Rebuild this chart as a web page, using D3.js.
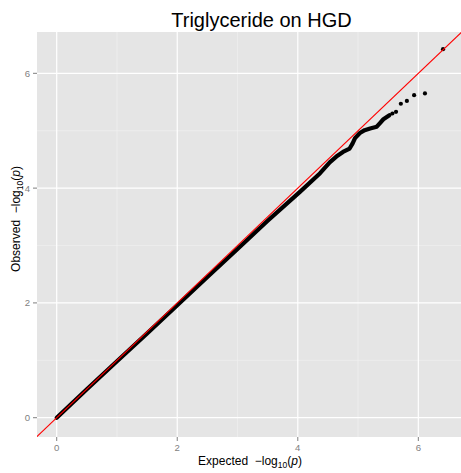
<!DOCTYPE html>
<html lang="en">
  <head>
    <meta charset="utf-8">
    <title>Triglyceride on HGD</title>
    <script src="https://d3js.org/d3.v7.min.js"></script>
    <style>
      body { margin: 0; background: #fff; }
      text { font-family: "Liberation Sans", Arial, sans-serif; }
    </style>
  </head>
  <body>
    <div id="container"></div>
    <script>
      width = 461;
      height = 473;
      panel = ({left: 37, right: 461, top: 32, bottom: 437});

      // dense part of the QQ curve (reads as a solid band)
      expected = [0, 0.5, 1, 1.5, 2, 2.5, 3, 3.5, 4.04, 4.37, 4.53, 4.64, 4.75, 4.86, 4.91, 4.95, 5.03, 5.11, 5.20, 5.31, 5.36, 5.42, 5.52];
      observed = [0, 0.495, 0.985, 1.47, 1.96, 2.45, 2.94, 3.43, 3.94, 4.26, 4.45, 4.55, 4.63, 4.69, 4.78, 4.87, 4.96, 5.01, 5.04, 5.07, 5.13, 5.20, 5.27];
      // separate points at the top
      tailExpected = [5.57, 5.63, 5.71, 5.81, 5.93, 6.11, 6.41];
      tailObserved = [5.30, 5.33, 5.47, 5.52, 5.62, 5.65, 6.42];

      ticks = [0, 2, 4, 6];
      minorTicks = [1, 3, 5];

      x = d3.scaleLinear().domain([-0.327, 6.708]).range([panel.left, panel.right]);
      y = d3.scaleLinear().domain([-0.336, 6.72]).range([panel.bottom, panel.top]);

      const svg = d3.select("#container").append("svg")
          .attr("width", width)
          .attr("height", height);

      svg.append("defs").append("clipPath").attr("id", "clip")
        .append("rect")
          .attr("x", panel.left).attr("y", panel.top)
          .attr("width", panel.right - panel.left)
          .attr("height", panel.bottom - panel.top);

      svg.append("rect")
          .attr("x", panel.left).attr("y", panel.top)
          .attr("width", panel.right - panel.left)
          .attr("height", panel.bottom - panel.top)
          .attr("fill", "#E5E5E5");

      // grid
      const grid = svg.append("g");
      grid.selectAll(".vmin").data(minorTicks).join("line")
          .attr("x1", d => x(d)).attr("x2", d => x(d))
          .attr("y1", panel.top).attr("y2", panel.bottom)
          .attr("stroke", "#F2F2F2").attr("stroke-width", 0.6);
      grid.selectAll(".hmin").data(minorTicks).join("line")
          .attr("y1", d => y(d)).attr("y2", d => y(d))
          .attr("x1", panel.left).attr("x2", panel.right)
          .attr("stroke", "#F2F2F2").attr("stroke-width", 0.6);
      grid.selectAll(".vmaj").data(ticks).join("line")
          .attr("x1", d => x(d)).attr("x2", d => x(d))
          .attr("y1", panel.top).attr("y2", panel.bottom)
          .attr("stroke", "#fff").attr("stroke-width", 1.2);
      grid.selectAll(".hmaj").data(ticks).join("line")
          .attr("y1", d => y(d)).attr("y2", d => y(d))
          .attr("x1", panel.left).attr("x2", panel.right)
          .attr("stroke", "#fff").attr("stroke-width", 1.2);

      const plot = svg.append("g").attr("clip-path", "url(#clip)");

      const pts = expected.map((e, i) => [e, observed[i]]);
      plot.append("path")
          .datum(pts)
          .attr("fill", "none")
          .attr("stroke", "#000")
          .attr("stroke-width", 4.2)
          .attr("stroke-linecap", "round")
          .attr("stroke-linejoin", "round")
          .attr("d", d3.line().x(d => x(d[0])).y(d => y(d[1])));

      plot.selectAll(".pt")
        .data(tailExpected.map((e, i) => [e, tailObserved[i]]))
        .join("circle")
          .attr("cx", d => x(d[0]))
          .attr("cy", d => y(d[1]))
          .attr("r", 2.1)
          .attr("fill", "#000");

      // y = x reference line
      plot.append("line")
          .attr("x1", x(-1)).attr("y1", y(-1))
          .attr("x2", x(8)).attr("y2", y(8))
          .attr("stroke", "#FF0000").attr("stroke-width", 1.1);

      // axes
      const tickCol = "#7F7F7F";
      svg.append("g").selectAll("line").data(ticks).join("line")
          .attr("x1", d => x(d)).attr("x2", d => x(d))
          .attr("y1", panel.bottom).attr("y2", panel.bottom + 4)
          .attr("stroke", tickCol);
      svg.append("g").selectAll("text").data(ticks).join("text")
          .attr("x", d => x(d)).attr("y", 450.5)
          .attr("text-anchor", "middle")
          .attr("font-size", 9.6).attr("fill", tickCol)
          .text(d => d);
      svg.append("g").selectAll("line").data(ticks).join("line")
          .attr("y1", d => y(d)).attr("y2", d => y(d))
          .attr("x1", panel.left - 4).attr("x2", panel.left)
          .attr("stroke", tickCol);
      svg.append("g").selectAll("text").data(ticks).join("text")
          .attr("x", 30).attr("y", d => y(d) + 3.4)
          .attr("text-anchor", "end")
          .attr("font-size", 9.6).attr("fill", tickCol)
          .text(d => d);

      function mathLabel(t, word) {
        t.append("tspan").text(word + "\u00a0\u00a0\u2212log");
        t.append("tspan").attr("font-size", 8.5).attr("dy", 2.5).text("10");
        t.append("tspan").attr("dy", -2.5).text("(");
        t.append("tspan").attr("font-style", "italic").text("p");
        t.append("tspan").text(")");
      }

      const xt = svg.append("text")
          .attr("x", 250).attr("y", 465)
          .attr("text-anchor", "middle")
          .attr("font-size", 12).attr("fill", "#000");
      mathLabel(xt, "Expected");

      const yt = svg.append("text")
          .attr("transform", "translate(20,219) rotate(-90)")
          .attr("text-anchor", "middle")
          .attr("font-size", 12).attr("fill", "#000");
      mathLabel(yt, "Observed");

      svg.append("text")
          .attr("x", 261.5).attr("y", 27.3)
          .attr("text-anchor", "middle")
          .attr("font-size", 20).attr("fill", "#000")
          .text("Triglyceride on HGD");
    </script>
  </body>
</html>
